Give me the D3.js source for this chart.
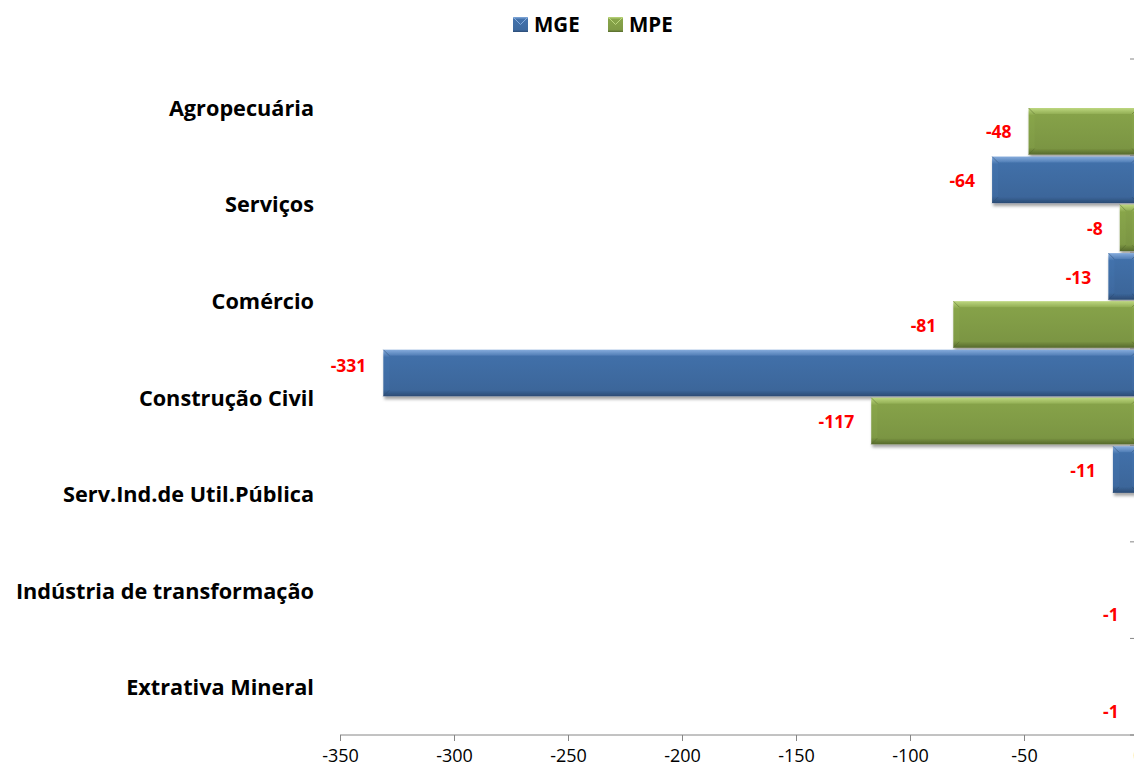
<!DOCTYPE html>
<html>
<head>
<meta charset="utf-8">
<script src="https://cdn.jsdelivr.net/npm/d3@7"></script>
<style>
  body { margin: 0; background: #fff; }
  svg { display: block; font-family: "Open Sans", Lato, sans-serif; }
</style>
</head>
<body>
<svg id="chart" width="1134" height="771"></svg>
<script>
// categories top to bottom
const categories = ["Agropecuária", "Serviços", "Comércio", "Construção Civil",
  "Serv.Ind.de Util.Pública", "Indústria de transformação", "Extrativa Mineral"];
const series = ["MGE", "MPE"];
const mgeValues = [0, -64, -13, -331, -11, 0, 0];
const mpeValues = [-48, -8, -81, -117, 0, -1, -1];
const xTicks = [-350, -300, -250, -200, -150, -100, -50, 0];

const colors = {
  MGE: { light: "#86acdc", base: "#3e6aa0", dark: "#2b4b74" },
  MPE: { light: "#bdd77f", base: "#7f9a45", dark: "#56692c" }
};

const svg = d3.select("#chart");

let xScale = d3.scaleLinear()
  .domain([-350, 0])
  .range([340, 1138]);

let yScale = d3.scaleBand()
  .domain(categories)
  .range([59, 735]);

let subScale = d3.scaleBand()
  .domain(series)
  .range([0, yScale.bandwidth()])
  .paddingInner(0.03)
  .paddingOuter(0.02);

// gradients and shadow
const defs = svg.append("defs");
series.forEach(s => {
  let c = colors[s];
  let g = defs.append("linearGradient")
    .attr("id", "rim-" + s)
    .attr("x1", 0).attr("y1", 0).attr("x2", 0).attr("y2", 1);
  g.append("stop").attr("offset", "0%").attr("stop-color", c.light);
  g.append("stop").attr("offset", "16%").attr("stop-color", d3.color(c.base).brighter(0.2));
  g.append("stop").attr("offset", "85%").attr("stop-color", c.base);
  g.append("stop").attr("offset", "100%").attr("stop-color", c.dark);

  let inner = defs.append("linearGradient")
    .attr("id", "face-" + s)
    .attr("x1", 0).attr("y1", 0).attr("x2", 0).attr("y2", 1);
  inner.append("stop").attr("offset", "0%").attr("stop-color", d3.color(c.base).brighter(0.15));
  inner.append("stop").attr("offset", "100%").attr("stop-color", d3.color(c.base).darker(0.1));
});
defs.append("filter")
  .attr("id", "shadow")
  .attr("x", "-5%").attr("y", "-20%").attr("width", "110%").attr("height", "150%")
  .append("feDropShadow")
  .attr("dx", 1).attr("dy", 3).attr("stdDeviation", 1.8)
  .attr("flood-color", "#000").attr("flood-opacity", 0.35);

// data table
let rows = [];
categories.forEach((cat, i) => {
  rows.push({ cat: cat, s: "MGE", v: mgeValues[i] });
  rows.push({ cat: cat, s: "MPE", v: mpeValues[i] });
});

// bars
let bars = svg.append("g").attr("id", "bars")
  .selectAll("g")
  .data(rows.filter(d => d.v !== 0))
  .join("g")
  .attr("transform", d => `translate(${xScale(d.v)},${yScale(d.cat) + subScale(d.s)})`);

bars.append("rect")
  .attr("width", d => xScale(0) - xScale(d.v))
  .attr("height", subScale.bandwidth())
  .attr("fill", d => `url(#rim-${d.s})`)
  .attr("filter", "url(#shadow)");

bars.append("rect")
  .attr("x", d => Math.min(6, (xScale(0) - xScale(d.v)) / 2))
  .attr("y", 6)
  .attr("width", d => Math.max(0, xScale(0) - xScale(d.v) - 12))
  .attr("height", subScale.bandwidth() - 12)
  .attr("fill", d => `url(#face-${d.s})`);

// corner bevel lines
bars.append("path")
  .attr("d", d => {
    let w = xScale(0) - xScale(d.v), h = subScale.bandwidth();
    let k = Math.min(6, w / 2);
    return `M0,0L${k},6M0,${h}L${k},${h - 6}M${w},0L${w - k},6M${w},${h}L${w - k},${h - 6}`;
  })
  .attr("stroke", d => colors[d.s].dark)
  .attr("stroke-opacity", 0.5)
  .attr("fill", "none");

// value labels; a label that would run past the plot's left edge sits a bit higher
svg.append("g").attr("id", "labels")
  .selectAll("text")
  .data(rows.filter(d => d.v !== 0))
  .join("text")
  .attr("x", d => xScale(d.v) - 17)
  .attr("y", d => {
    let y = yScale(d.cat) + subScale(d.s) + subScale.bandwidth() / 2 + 1;
    return xScale(d.v) - 17 - 36 < xScale.range()[0] ? y - 8 : y;
  })
  .attr("dy", "0.35em")
  .attr("text-anchor", "end")
  .attr("fill", "#ff0000")
  .attr("font-weight", "bold")
  .attr("font-size", 17.5)
  .text(d => d.v);

// x axis
let xAxis = d3.axisBottom(xScale)
  .tickValues(xTicks)
  .tickSize(6)
  .tickPadding(8)
  .tickFormat(d => String(d));

let xg = svg.append("g")
  .attr("id", "xAxis")
  .attr("transform", "translate(0,735)")
  .call(xAxis);
xg.select(".domain").attr("stroke", "#868686").attr("d", `M340,0H1138`);
xg.selectAll(".tick line").attr("stroke", "#868686");
xg.selectAll(".tick text")
  .attr("font-family", "'Open Sans', sans-serif")
  .attr("font-size", 18)
  .attr("fill", "#000");

// category axis ticks at x = 0
let bounds = categories.map(c => yScale(c)).concat([yScale.range()[1]]);
svg.append("g").attr("id", "yAxis")
  .selectAll("line")
  .data(bounds)
  .join("line")
  .attr("x1", xScale(0) - 8)
  .attr("x2", xScale(0))
  .attr("y1", d => d)
  .attr("y2", d => d)
  .attr("stroke", "#868686");

// category labels
svg.append("g").attr("id", "catLabels")
  .selectAll("text")
  .data(categories)
  .join("text")
  .attr("x", 314)
  .attr("y", d => yScale(d) + yScale.bandwidth() / 2 + 1)
  .attr("dy", "0.35em")
  .attr("text-anchor", "end")
  .attr("font-weight", "bold")
  .attr("font-size", 21.7)
  .attr("fill", "#000")
  .text(d => d);

// legend
let legend = svg.append("g").attr("id", "legend");
let legendX = { MGE: 513, MPE: 608 };
series.forEach(s => {
  let lg = legend.append("g").attr("transform", `translate(${legendX[s]},17)`);
  lg.append("rect")
    .attr("width", 15).attr("height", 15)
    .attr("fill", `url(#rim-${s})`);
  lg.append("path")
    .attr("d", "M0,0L7.5,7.5L15,0")
    .attr("stroke", colors[s].light)
    .attr("fill", "none");
  lg.append("text")
    .attr("x", 21).attr("y", 7.5)
    .attr("dy", "0.35em")
    .attr("font-weight", "bold")
    .attr("font-size", 20.5)
    .text(s);
});
</script>
</body>
</html>
